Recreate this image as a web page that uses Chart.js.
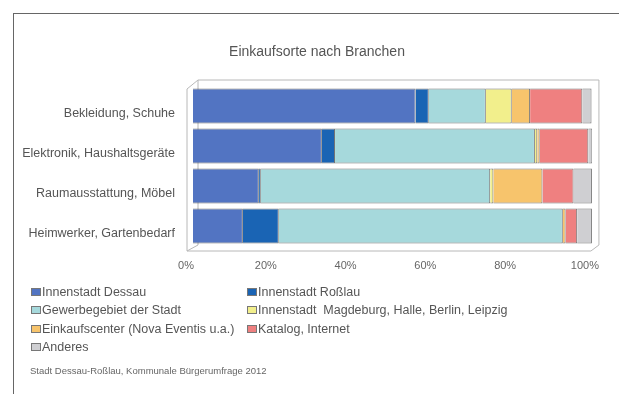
<!DOCTYPE html>
<html>
<head>
<meta charset="utf-8">
<script src="https://cdn.jsdelivr.net/npm/chart.js@4"></script>
<style>
  html, body { margin: 0; padding: 0; background: #fff; }
  #wrap { position: relative; width: 619px; height: 394px; overflow: hidden; font-family: "Liberation Sans", Arial, sans-serif; }
  #frame { position: absolute; left: 13px; top: 13px; width: 700px; height: 500px; border-left: 1px solid #666; border-top: 1px solid #666; }
  #chart { position: absolute; left: 0; top: 0; }
  #title { position: absolute; left: 217px; width: 200px; top: 43px; text-align: center; font-size: 14px; color: #555; white-space: nowrap; }
  #legend { position: absolute; left: 31px; top: 285px; width: 560px; font-size: 12.5px; color: #555; }
  .item { position: absolute; white-space: pre; line-height: 14px; }
  .item span.box { display: inline-block; width: 8px; height: 6px; border: 1px solid #777; margin-right: 1px; vertical-align: 0px; }
  #source { position: absolute; left: 30px; top: 365px; font-size: 9.5px; color: #666; white-space: nowrap; }
</style>
</head>
<body>
<div id="wrap">
  <div id="frame"></div>
  <canvas id="chart" width="619" height="394"></canvas>
  <div id="title">Einkaufsorte nach Branchen</div>
  <div id="legend"></div>
  <div id="source">Stadt Dessau-Roßlau, Kommunale Bürgerumfrage 2012</div>
</div>
<script>
// Branchen (Kategorien)
const branchen = ['Bekleidung, Schuhe', 'Elektronik, Haushaltsgeräte', 'Raumausstattung, Möbel', 'Heimwerker, Gartenbedarf'];

// Anteile je Einkaufsort in %
const innenstadtDessau = [55.8, 32.3, 16.5, 12.5];
const innenstadtRosslau = [3.3, 3.3, 0.5, 9.0];
const gewerbegebiet = [14.3, 50.1, 57.5, 71.2];
const grossstaedte = [6.5, 0.6, 0.8, 0];
const einkaufscenter = [4.6, 0.6, 12.3, 0.7];
const katalogInternet = [13.1, 12.2, 7.8, 2.9];
const anderes = [2.3, 1.0, 4.6, 3.7];

const xTicks = [0, 20, 40, 60, 80, 100];

const series = [
    { label: 'Innenstadt Dessau', data: innenstadtDessau, color: '#5274c2' },
    { label: 'Innenstadt Roßlau', data: innenstadtRosslau, color: '#1a64b4' },
    { label: 'Gewerbegebiet der Stadt', data: gewerbegebiet, color: '#a6d9dc' },
    { label: 'Innenstadt  Magdeburg, Halle, Berlin, Leipzig', data: grossstaedte, color: '#f2ef8c' },
    { label: 'Einkaufscenter (Nova Eventis u.a.)', data: einkaufscenter, color: '#f7c46c' },
    { label: 'Katalog, Internet', data: katalogInternet, color: '#ef8080' },
    { label: 'Anderes', data: anderes, color: '#cfcfd2' }
];

// 3D-Rahmen hinter den Balken
const boxPlugin = {
    id: 'box3d',
    beforeDatasetsDraw(chart) {
        const { ctx, chartArea: a } = chart;
        ctx.save();
        ctx.strokeStyle = '#b8b8b8';
        ctx.lineWidth = 1;
        const bl = a.left + 5, bt = a.top - 6, br = a.right + 7, bb = a.bottom - 1;
        const fl = a.left - 6, ft = a.top + 3, fr = a.right - 1, fb = a.bottom + 5;
        ctx.beginPath();
        // hintere Ebene
        ctx.moveTo(bl, bb); ctx.lineTo(bl, bt); ctx.lineTo(br, bt); ctx.lineTo(br, bb);
        // vordere Kanten
        ctx.moveTo(fl, ft); ctx.lineTo(fl, fb); ctx.lineTo(fr, fb);
        // Diagonalen
        ctx.moveTo(fl, ft); ctx.lineTo(bl, bt);
        ctx.moveTo(fr, fb); ctx.lineTo(br, bb);
        ctx.moveTo(fl, fb); ctx.lineTo(bl, bb);
        ctx.stroke();
        ctx.restore();
    }
};

const ctx = document.getElementById('chart').getContext('2d');
const chart = new Chart(ctx, {
    type: 'bar',
    data: {
        labels: branchen,
        datasets: series.map(s => ({
            label: s.label,
            data: s.data,
            backgroundColor: s.color,
            borderColor: 'rgba(70,70,70,0.75)',
            borderWidth: 1,
            barPercentage: 0.875,
            categoryPercentage: 1
        }))
    },
    options: {
        indexAxis: 'y',
        responsive: false,
        animation: false,
        layout: { padding: { left: 0, right: 26, top: 86, bottom: 118 } },
        plugins: {
            legend: { display: false },
            tooltip: { enabled: false },
            title: { display: false }
        },
        scales: {
            x: {
                stacked: true,
                min: 0,
                max: 100,
                afterBuildTicks: scale => { scale.ticks = xTicks.map(v => ({ value: v })); },
                afterFit: scale => { scale.height = 30; },
                grid: { display: false, drawTicks: false },
                border: { display: false },
                ticks: {
                    color: '#666',
                    font: { family: '"Liberation Sans", Arial, sans-serif', size: 11 },
                    padding: 13,
                    labelOffset: -7,
                    callback: v => v + '%'
                }
            },
            y: {
                stacked: true,
                afterFit: scale => { scale.width = 193; },
                grid: { display: false, drawTicks: false },
                border: { display: false },
                ticks: {
                    color: '#555',
                    font: { family: '"Liberation Sans", Arial, sans-serif', size: 12.5 },
                    padding: 18,
                    labelOffset: 8
                }
            }
        }
    },
    plugins: [boxPlugin]
});

// Legende in zwei Spalten
const legend = document.getElementById('legend');
series.forEach((s, i) => {
    const el = document.createElement('div');
    el.className = 'item';
    el.style.left = (i % 2 === 0 ? 0 : 216) + 'px';
    el.style.top = (Math.floor(i / 2) * 18.3) + 'px';
    el.innerHTML = '<span class="box" style="background:' + s.color + '"></span>' + s.label;
    legend.appendChild(el);
});
</script>
</body>
</html>
